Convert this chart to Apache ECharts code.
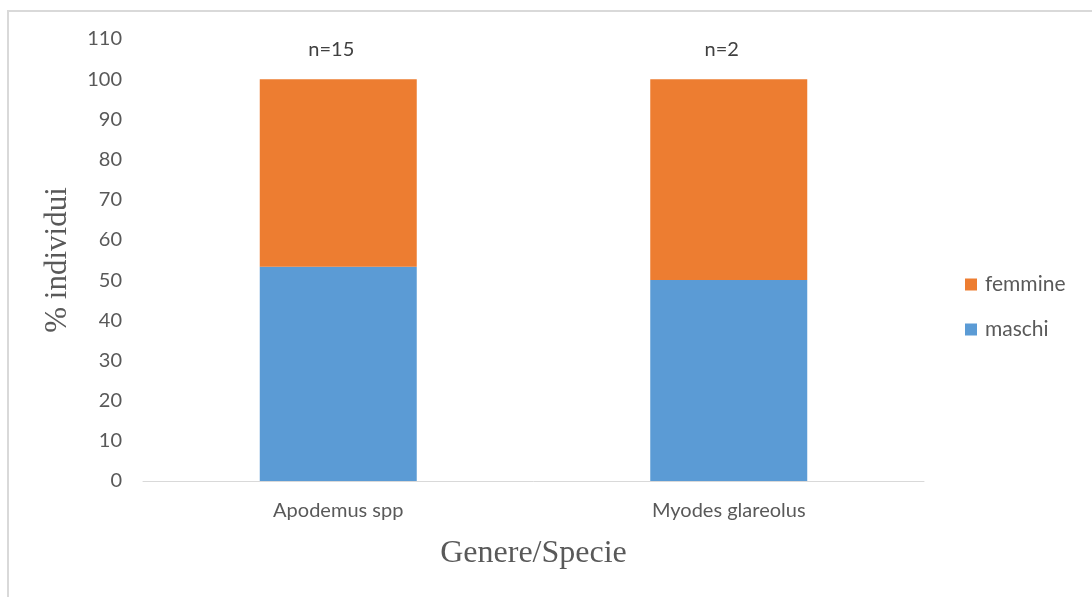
<!DOCTYPE html>
<html>
<head>
<meta charset="utf-8">
<script src="https://cdn.jsdelivr.net/npm/echarts@6/dist/echarts.min.js"></script>
<style>
  html, body { margin: 0; padding: 0; background: #fff; }
  #frame { position: absolute; left: 7px; top: 10px; width: 1100px; height: 600px; border: 2px solid #d9d9d9; box-sizing: border-box; }
  #chart { position: absolute; left: 0; top: 0; width: 1092px; height: 597px; }
</style>
</head>
<body>
<div id="frame"></div>
<div id="chart"></div>
<script>
// Sex ratio per genus/species (% of individuals)
const categories = ['Apodemus spp', 'Myodes glareolus'];
const sampleSizes = [15, 2];
const maschi = [53.33, 50];
const femmine = [46.67, 50];
const yTicks = { min: 0, max: 110, interval: 10 };

const chart = echarts.init(document.getElementById('chart'));
const tickFont = 'Lato, "Liberation Sans", sans-serif';
const serif = '"Liberation Serif", "DejaVu Serif", serif';

chart.setOption({
  animation: false,
  grid: { left: 143, right: 168, top: 39, bottom: 116, containLabel: false },
  legend: {
    orient: 'vertical',
    left: 965,
    top: 274,
    padding: 0,
    itemWidth: 12,
    itemHeight: 12,
    itemGap: 24,
    data: ['femmine', 'maschi'],
    icon: 'rect',
    textStyle: { color: '#595959', fontSize: 21, fontFamily: tickFont, padding: [0, 0, 0, 3] }
  },
  xAxis: {
    type: 'category',
    data: categories,
    name: 'Genere/Specie',
    nameLocation: 'middle',
    nameGap: 57,
    nameTextStyle: { fontFamily: serif, fontSize: 32, color: '#595959' },
    axisLine: { lineStyle: { color: '#d9d9d9', width: 1 } },
    axisTick: { show: false },
    axisLabel: { color: '#595959', fontSize: 20, fontFamily: tickFont, margin: 20 }
  },
  yAxis: {
    type: 'value',
    min: yTicks.min,
    max: yTicks.max,
    interval: yTicks.interval,
    name: '% individui',
    nameLocation: 'middle',
    nameGap: 70,
    nameTextStyle: { fontFamily: serif, fontSize: 31, color: '#595959' },
    axisLine: { show: false },
    axisTick: { show: false },
    splitLine: { show: false },
    axisLabel: { color: '#595959', fontSize: 20, fontFamily: tickFont, margin: 21 }
  },
  series: [
    {
      name: 'maschi',
      type: 'bar',
      stack: 'tot',
      barWidth: 157,
      itemStyle: { color: '#5b9bd5' },
      data: maschi
    },
    {
      name: 'femmine',
      type: 'bar',
      stack: 'tot',
      barWidth: 157,
      itemStyle: { color: '#ed7d31' },
      data: femmine,
      label: {
        show: true,
        position: 'top',
        distance: 20,
        offset: [-7, 0],
        color: '#404040',
        fontSize: 20,
        fontFamily: tickFont,
        formatter: p => 'n=' + sampleSizes[p.dataIndex]
      }
    }
  ]
});
</script>
</body>
</html>
